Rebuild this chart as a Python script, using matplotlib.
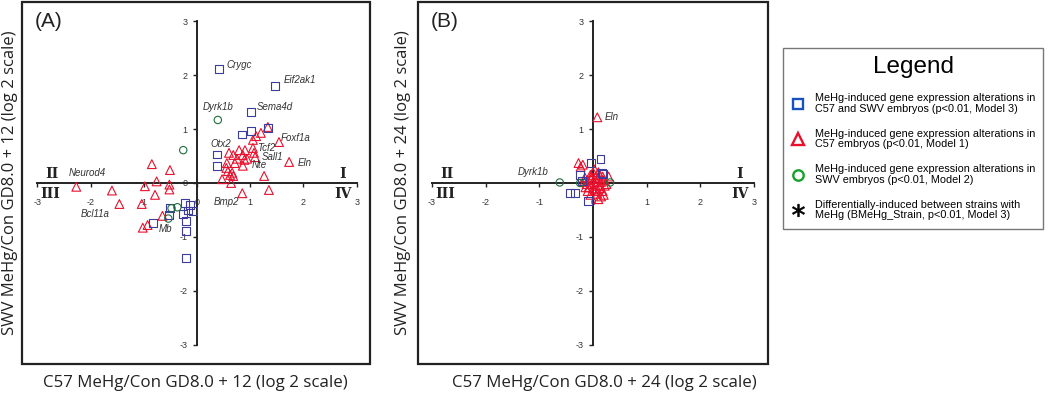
import matplotlib
matplotlib.use('Agg')
import matplotlib.pyplot as plt
from matplotlib.patches import Rectangle
from matplotlib.lines import Line2D

plt.rcParams['font.family'] = ['Liberation Sans', 'DejaVu Sans']
plt.rcParams['axes.unicode_minus'] = False

# ---- panel A: GD8.0 + 12 ----
a_sq_x = [0.41, 1.47, 1.01, 1.33, 1.01, 0.85, 0.37, 0.37, -0.23, -0.13, -0.07, -0.17,
          -0.26, -0.21, -0.21, -0.21, -0.51, -0.52, -0.83]
a_sq_y = [2.12, 1.80, 1.32, 1.02, 0.97, 0.90, 0.53, 0.32, -0.37, -0.41, -0.52, -0.51,
          -0.58, -0.71, -0.89, -1.39, -0.47, -0.59, -0.74]

a_tri_x = [-2.27, -1.60, -1.46, -1.04, -0.98, -0.85, -0.76, -0.79, -0.52, -0.52, -0.51,
           -0.65, -0.93, -1.02,
           0.47, 0.64, 0.85, 1.35, 1.26, 1.73, 1.54, 1.33, 1.20, 1.11, 1.05, 1.05, 1.07,
           1.09, 0.90, 0.79, 0.68, 0.60, 0.86, 0.75, 0.94, 0.86, 0.71, 0.56, 0.55, 0.58,
           0.66, 0.68, 0.62, 0.89]
a_tri_y = [-0.07, -0.14, -0.39, -0.39, -0.06, 0.35, 0.03, -0.22, -0.03, -0.12, 0.24,
           -0.61, -0.78, -0.83,
           0.07, 0.00, -0.19, -0.13, 0.13, 0.39, 0.76, 1.04, 0.93, 0.87, 0.80, 0.65, 0.56,
           0.48, 0.61, 0.61, 0.52, 0.56, 0.52, 0.45, 0.45, 0.32, 0.37, 0.37, 0.28, 0.22,
           0.19, 0.13, 0.15, 0.43]

a_cir_x = [0.39, -0.26, -0.37, -0.48, -0.54]
a_cir_y = [1.17, 0.61, -0.45, -0.47, -0.66]

a_genes = ['Crygc', 'Eif2ak1', 'Dyrk1b', 'Sema4d', 'Foxf1a', 'Otx2', 'Tcf2', 'Sall1',
           'Eln', 'Nte', 'Neurod4', 'Bcl11a', 'Mb', 'Bmp2']
a_gene_x = [0.56, 1.62, 0.11, 1.12, 1.58, 0.26, 1.12, 1.22, 1.90, 1.03, -2.42, -2.18,
            -0.73, 0.32]
a_gene_y = [2.19, 1.91, 1.41, 1.41, 0.84, 0.72, 0.65, 0.48, 0.37, 0.33, 0.19, -0.58,
            -0.86, -0.35]

# ---- panel B: GD8.0 + 24 ----
b_sq_x = [0.14, -0.43, -0.34, -0.09, -0.21, 0.16, -0.24, 0.19, -0.04]
b_sq_y = [0.45, -0.18, -0.18, -0.33, 0.04, 0.18, 0.15, 0.17, 0.37]

b_tri_x = [0.08, -0.27, -0.19, -0.23, 0.29, -0.15, -0.10, -0.05, 0.00, 0.05, 0.10, 0.15,
           0.20, 0.22, 0.12, 0.05, -0.02, -0.08, -0.12, -0.16, 0.02, 0.08, 0.15, 0.18,
           0.10, -0.05, 0.00, 0.12, -0.04, 0.07, 0.18, -0.10, 0.03, 0.25, 0.13, -0.02,
           0.06, -0.14, 0.20, 0.10]
b_tri_y = [1.22, 0.37, 0.34, 0.30, 0.12, 0.10, 0.05, 0.15, 0.20, 0.12, 0.08, 0.02,
           0.05, -0.05, -0.10, -0.05, -0.02, -0.08, -0.02, 0.02, -0.15, -0.20, -0.25, -0.15,
           -0.30, -0.22, -0.10, 0.15, 0.07, 0.02, 0.12, -0.15, 0.25, -0.02, -0.05, 0.10,
           -0.12, -0.08, -0.22, 0.20]

b_cir_x = [-0.62, 0.32, -0.24]
b_cir_y = [0.01, 0.01, 0.00]

b_genes = ['Eln', 'Dyrk1b']
b_gene_x = [0.22, -1.40]
b_gene_y = [1.22, 0.20]

ticks = [-3, -2, -1, 0, 1, 2, 3]
quadrants = ['II', 'III', 'I', 'IV']
quad_x = [-2.73, -2.75, 2.74, 2.74]
quad_y = [0.16, -0.20, 0.16, -0.20]

legend_labels = ['MeHg-induced gene expression alterations in\nC57 and SWV embryos (p<0.01, Model 3)',
                 'MeHg-induced gene expression alterations in\nC57 embryos (p<0.01, Model 1)',
                 'MeHg-induced gene expression alterations in\nSWV embryos (p<0.01, Model 2)',
                 'Differentially-induced between strains with\nMeHg (BMeHg_Strain, p<0.01, Model 3)']

sq_col = '#3c3c9c'
tri_col = '#e8112d'
cir_col = '#1f6e3c'
ink = '#222222'

fig = plt.figure(figsize=(10.5, 3.93), dpi=100)


def panel(rect, xlim, tag, sx, sy, tx, ty, cx, cy, genes, gx, gy, xlab, ylab, xlab_pos, ylab_pos):
    ax = fig.add_axes(rect)
    ax.set_xlim(*xlim)
    ax.set_ylim(-3.36, 3.36)
    for s in ['top', 'right']:
        ax.spines[s].set_visible(False)
    for s in ['left', 'bottom']:
        ax.spines[s].set_position(('data', 0))
        ax.spines[s].set_bounds(-3, 3)
        ax.spines[s].set_linewidth(1.4)
        ax.spines[s].set_color(ink)
    ax.set_xticks(ticks)
    ax.set_yticks(ticks)
    ax.tick_params(direction='out', length=3, width=1, color=ink,
                   labelsize=6.5, labelcolor='#333333')
    ax.tick_params(axis='x', pad=8)
    ax.tick_params(axis='y', pad=4)
    ax.add_patch(Rectangle((0, 0), 1, 1, transform=ax.transAxes, fill=False,
                           lw=1.6, ec=ink, clip_on=False))

    ax.scatter(tx, ty, marker='^', s=40, facecolors='none', edgecolors=tri_col,
               linewidths=0.8, zorder=3)
    ax.scatter(sx, sy, marker='s', s=32, facecolors='none', edgecolors=sq_col,
               linewidths=0.8, zorder=3)
    ax.scatter(cx, cy, marker='o', s=28, facecolors='none', edgecolors=cir_col,
               linewidths=0.8, zorder=3)

    for g, x, y in zip(genes, gx, gy):
        ax.text(x, y, g, fontsize=7, style='italic', color='#333333',
                ha='left', va='center')
    for q, x, y in zip(quadrants, quad_x, quad_y):
        ax.text(x, y, q, fontsize=10, fontweight='bold', family='DejaVu Serif',
                color=ink, ha='center', va='center')
    ax.text(0.037, 0.945, tag, transform=ax.transAxes, fontsize=15, ha='left',
            va='center', color=ink)
    fig.text(xlab_pos[0], xlab_pos[1], xlab, fontsize=12.2, family='Open Sans',
             ha='center', va='center', color=ink)
    fig.text(ylab_pos[0], ylab_pos[1], ylab, fontsize=12.0, family='Open Sans',
             ha='center', va='center', rotation=90, color=ink)
    return ax


panel([22 / 1050, 29 / 393, 348 / 1050, 362 / 393], (-3.29, 3.25), '(A)',
      a_sq_x, a_sq_y, a_tri_x, a_tri_y, a_cir_x, a_cir_y,
      a_genes, a_gene_x, a_gene_y,
      'C57 MeHg/Con GD8.0 + 12 (log 2 scale)', 'SWV MeHg/Con GD8.0 + 12 (log 2 scale)',
      (195 / 1050, 1 - 383 / 393), (10 / 1050, 1 - 183 / 393))

panel([418 / 1050, 29 / 393, 350 / 1050, 362 / 393], (-3.26, 3.26), '(B)',
      b_sq_x, b_sq_y, b_tri_x, b_tri_y, b_cir_x, b_cir_y,
      b_genes, b_gene_x, b_gene_y,
      'C57 MeHg/Con GD8.0 + 24 (log 2 scale)', 'SWV MeHg/Con GD8.0 + 24 (log 2 scale)',
      (604 / 1050, 1 - 383 / 393), (403 / 1050, 1 - 183 / 393))

handles = [
    Line2D([], [], ls='none', marker='s', ms=7.5, mfc='none', mec='#1a4fc0', mew=1.7),
    Line2D([], [], ls='none', marker='^', ms=8.5, mfc='none', mec='#e8112d', mew=1.7),
    Line2D([], [], ls='none', marker='o', ms=7.5, mfc='none', mec='#17a02a', mew=1.7),
    Line2D([], [], ls='none', marker='$*$', ms=9, mfc='black', mec='black', mew=0.5),
]
leg = fig.legend(handles, legend_labels, loc='upper left',
                 bbox_to_anchor=(783 / 1050, 1 - 48 / 393), fontsize=7.8,
                 title='Legend', title_fontsize=17.5, frameon=True, fancybox=False,
                 edgecolor='#555555', handlelength=1.2, handletextpad=1.0,
                 labelspacing=1.4, borderpad=0.75, borderaxespad=0)
leg.get_frame().set_linewidth(1.0)
for t in leg.get_texts():
    t.set_linespacing(1.05)

fig.savefig('out.png', dpi=100)
